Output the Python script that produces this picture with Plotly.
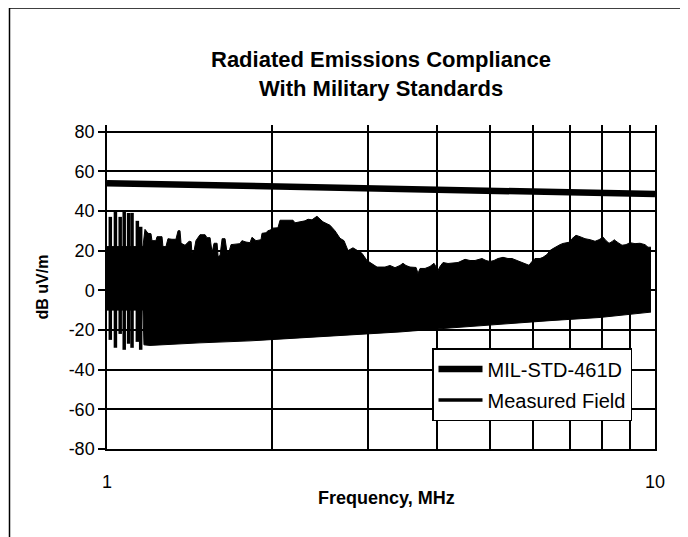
import plotly.graph_objects as go

# ---- data ----
mil_freq_mhz = [1.0, 10.0]
mil_db = [54.0, 48.5]

# upper envelope of measured field (MHz, dB uV/m)
upper_freq_mhz = [1.000, 1.163, 1.173, 1.188, 1.203, 1.208, 1.228, 1.234, 1.260, 1.265,
                  1.281, 1.292, 1.314, 1.336, 1.348, 1.359, 1.365, 1.388, 1.412, 1.424,
                  1.429, 1.441, 1.453, 1.478, 1.510, 1.522, 1.542, 1.555, 1.568, 1.588,
                  1.595, 1.608, 1.622, 1.642, 1.656, 1.670, 1.684, 1.748, 1.763, 1.793,
                  1.824, 1.839, 1.870, 1.910, 1.918, 1.950, 1.967, 1.992, 2.000, 2.051,
                  2.069, 2.185, 2.203, 2.250, 2.298, 2.327, 2.366, 2.416, 2.447, 2.478,
                  2.520, 2.552, 2.606, 2.662, 2.707, 2.753, 2.811, 2.859, 2.920, 2.982,
                  3.045, 3.110, 3.216, 3.284, 3.354, 3.425, 3.468, 3.512, 3.572, 3.664,
                  3.694, 3.726, 3.805, 3.885, 3.951, 3.985, 4.018, 4.052, 4.104, 4.191,
                  4.280, 4.371, 4.501, 4.597, 4.694, 4.834, 4.916, 4.999, 5.083, 5.170,
                  5.280, 5.392, 5.484, 5.600, 5.719, 5.816, 5.890, 5.964, 6.039, 6.167,
                  6.245, 6.351, 6.432, 6.514, 6.597, 6.709, 6.794, 6.880, 6.968, 7.056,
                  7.176, 7.298, 7.453, 7.612, 7.773, 7.905, 8.039, 8.141, 8.244, 8.348,
                  8.418, 8.561, 8.706, 8.853, 9.003, 9.194, 9.389, 9.589, 9.710, 9.833]
upper_db = [22.0, 22.0, 30.7, 28.7, 28.5, 25.0, 25.0, 27.0, 27.0, 22.0,
            22.0, 26.0, 25.7, 25.7, 30.0, 30.0, 23.7, 22.7, 24.7, 24.5,
            19.0, 19.5, 25.0, 28.0, 28.0, 26.5, 26.5, 19.0, 23.7, 23.7,
            17.0, 17.5, 26.0, 26.0, 19.0, 19.5, 23.0, 23.5, 25.0, 24.3,
            24.0, 26.7, 25.0, 25.5, 28.7, 29.0, 30.0, 30.5, 31.3, 31.5,
            35.3, 35.3, 34.0, 34.5, 35.0, 35.8, 35.5, 37.3, 36.0, 34.5,
            33.5, 32.8, 30.0, 26.2, 25.0, 20.0, 21.4, 20.0, 18.6, 15.0,
            13.5, 11.7, 11.7, 12.5, 11.4, 12.5, 13.6, 12.5, 11.7, 11.5,
            8.5, 11.0, 11.0, 12.0, 13.6, 12.0, 10.0, 12.0, 14.0, 13.5,
            13.6, 14.0, 15.6, 15.0, 15.0, 16.0, 15.0, 14.5, 15.0, 16.0,
            16.6, 16.0, 16.0, 15.0, 14.0, 13.0, 12.6, 14.5, 16.0, 16.0,
            16.6, 18.0, 20.0, 21.0, 22.0, 23.0, 23.6, 24.0, 24.2, 26.0,
            27.7, 27.0, 26.0, 25.5, 24.7, 25.5, 26.8, 25.0, 23.7, 24.5,
            25.5, 24.0, 22.7, 23.0, 24.0, 23.5, 23.7, 23.0, 21.7, 21.7]

# lower envelope of measured field
lower_freq_mhz = [1.000, 1.163, 1.168, 1.198, 1.478, 1.824, 2.250, 2.776, 3.425,
                  4.227, 5.214, 6.432, 7.938, 9.833]
lower_db = [-10.0, -10.0, -27.5, -27.8, -26.5, -25.5, -24.0, -22.5, -21.0,
            -19.0, -17.0, -15.3, -13.7, -11.0]

# individual spikes visible at the low-frequency end
spike_freq_mhz = [1.014, 1.036, 1.057, 1.075, 1.095, 1.111, 1.136, 1.152]
spike_top_db = [37.0, 40.0, 37.0, 39.5, 39.0, 39.0, 35.0, 32.0]
spike_bottom_db = [-25.0, -29.0, -22.0, -30.0, -27.0, -29.0, -26.0, -30.0]

y_ticks = [-80, -60, -40, -20, 0, 20, 40, 60, 80]
y_ticktext = ["-80", "-60", "-40", "-20", "0", "20", "40", "60", "80"]
x_ticks = [1, 2, 3, 4, 5, 6, 7, 8, 9, 10]
x_ticktext = ["1", "", "", "", "", "", "", "", "", "10"]

FONT = "Liberation Sans, Arial, Helvetica, sans-serif"

fig = go.Figure()

fig.add_trace(go.Scatter(x=lower_freq_mhz, y=lower_db, mode="lines",
                         line=dict(color="black", width=1), showlegend=False,
                         hoverinfo="skip"))
fig.add_trace(go.Scatter(x=upper_freq_mhz, y=upper_db, mode="lines",
                         line=dict(color="black", width=1), fill="tonexty",
                         fillcolor="black", showlegend=False, hoverinfo="skip"))

sx, sy = [], []
for f, t, b in zip(spike_freq_mhz, spike_top_db, spike_bottom_db):
    sx += [f, f, None]
    sy += [b, t, None]
fig.add_trace(go.Scatter(x=sx, y=sy, mode="lines", name="Measured Field",
                         legendgroup="b", legendrank=2,
                         line=dict(color="black", width=3.5)))

fig.add_trace(go.Scatter(x=mil_freq_mhz, y=mil_db, mode="lines", name="MIL-STD-461D",
                         legendgroup="a", legendrank=1,
                         line=dict(color="black", width=6.5)))

# page has an 8px body margin, so the figure is offset by OFF
OFF = 8
W, H = 688 - OFF, 537 - OFF
L, R, T, B = 107 - OFF, 33, 125 - OFF, 88
pw, ph = W - L - R, H - T - B


def px(xp):
    return (xp - OFF - L) / pw


def py(yp):
    return (H - B - (yp - OFF)) / ph


title_font = dict(size=22, family=FONT, color="black")

fig.update_layout(
    width=W, height=H,
    margin=dict(l=L, r=R, t=T, b=B),
    paper_bgcolor="white", plot_bgcolor="white",
    font=dict(family=FONT, color="black", size=18),
    showlegend=True,
    legend=dict(x=px(432), y=py(348), xanchor="left", yanchor="top",
                traceorder="grouped", tracegroupgap=2, itemwidth=44,
                bgcolor="white", bordercolor="black", borderwidth=1.5,
                font=dict(size=20, family=FONT, color="black")),
    shapes=[
        dict(type="line", xref="paper", yref="paper", x0=px(9.5), x1=px(9.5),
             y0=py(8), y1=py(545), line=dict(color="black", width=1.5)),
        dict(type="line", xref="paper", yref="paper", x0=px(9.5), x1=px(700),
             y0=py(8), y1=py(8), line=dict(color="black", width=1.5)),
    ],
    annotations=[
        dict(text="<b>Radiated Emissions Compliance</b>", xref="paper", yref="paper",
             x=px(381), y=py(59), xanchor="center", yanchor="middle",
             showarrow=False, font=title_font),
        dict(text="<b>With Military Standards</b>", xref="paper", yref="paper",
             x=px(381), y=py(89), xanchor="center", yanchor="middle",
             showarrow=False, font=title_font),
        dict(text="<b>Frequency, MHz</b>", xref="paper", yref="paper",
             x=px(386), y=py(498), xanchor="center", yanchor="middle",
             showarrow=False, font=dict(size=18, family=FONT, color="black")),
    ],
)

fig.update_xaxes(type="log", range=[0, 1], tickvals=x_ticks, ticktext=x_ticktext,
                 showgrid=True, gridcolor="black", gridwidth=1.5,
                 showline=True, linecolor="black", linewidth=1.5,
                 ticks="", ticklabelstandoff=16,
                 tickfont=dict(size=18, family=FONT))

fig.update_yaxes(range=[-80, 83.3], tickvals=y_ticks, ticktext=y_ticktext,
                 showgrid=True, gridcolor="black", gridwidth=1.5, zeroline=False,
                 showline=True, linecolor="black", linewidth=1.5, mirror=True,
                 ticks="outside", ticklen=7, tickwidth=1.5, tickcolor="black",
                 tickfont=dict(size=18, family=FONT),
                 title=dict(text="<b>dB uV/m</b>", standoff=16,
                            font=dict(size=16, family=FONT)))

fig.write_html("out.html")
